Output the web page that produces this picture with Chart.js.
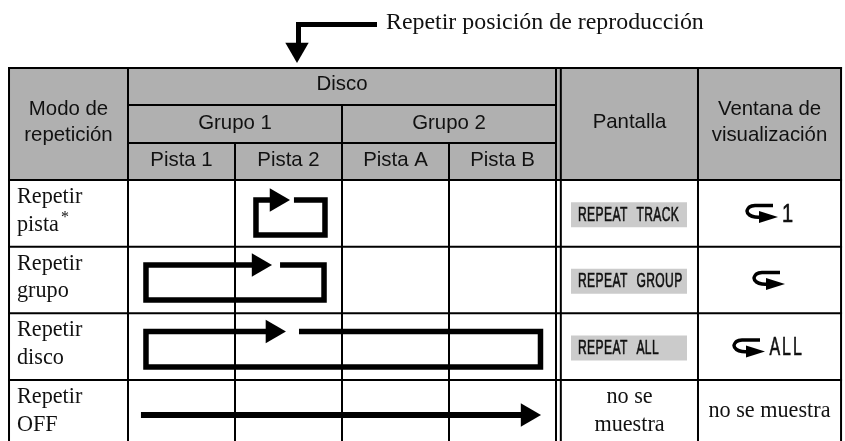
<!DOCTYPE html>
<html>
<head>
<meta charset="utf-8">
<style>
  html, body { margin: 0; padding: 0; background: #fff; }
  canvas { display: block; }
</style>
<script src="https://cdn.jsdelivr.net/npm/chart.js@4/dist/chart.umd.js"></script>
</head>
<body>
<canvas id="chart" width="845" height="441"></canvas>
<script>
// table content
const pointerLabel = "Repetir posición de reproducción";
const discLabel = "Disco";
const modeHeader = ["Modo de", "repetición"];
const screenHeader = "Pantalla";
const windowHeader = ["Ventana de", "visualización"];
const groups = ["Grupo 1", "Grupo 2"];
const tracks = ["Pista 1", "Pista 2", "Pista A", "Pista B"];
const modes = [["Repetir", "pista"], ["Repetir", "grupo"], ["Repetir", "disco"], ["Repetir", "OFF"]];
const screenTexts = ["REPEAT TRACK", "REPEAT GROUP", "REPEAT ALL"];
const windowTexts = ["1", "", "ALL"];
const hiddenShort = ["no se", "muestra"];
const hiddenLong = "no se muestra";

// repeat spans, x in tracks, y in rows
const loopStart = [1.196, 0.168, 0.168];
const loopEnd = [1.841, 1.832, 3.855];
const loopTop = [0.30, 1.275, 2.272];
const loopBottom = [0.825, 1.80, 2.805];
const arrowAt = [1.388, 1.220, 1.350];
const resumeAt = [1.551, 1.421, 1.598];
const offStart = 0.121;
const offEnd = 3.734;
const offRow = 3.525;

// grid edges, same units
const colLeft = -1.112, colDoubleA = 4, colDoubleB = 4.045, colScreenEnd = 5.327, colRight = 6.664;
const rowTop = -1.68, rowDisc = -1.125, rowGroup = -0.555;

const ink = "#000";
const headerGray = "#b0b0b0";
const screenGray = "#cbcbcb";
const sans = "'Liberation Sans'";
const serif = "'Liberation Serif'";

const pxX = 107, pxY = 66.67;
const X = p => (p - 128) / pxX;
const Y = p => (p - 180) / pxY;

const line = (pts, width) => ({
    data: pts, borderColor: ink, borderWidth: width, pointRadius: 0, tension: 0, fill: false,
    borderJoinStyle: "miter", borderCapStyle: "butt"
});
const seg = (x0, y0, x1, y1) => Object.assign(line([{x: x0, y: y0}, {x: x1, y: y1}], 2), {borderCapStyle: "square"});
const band = (x0, x1, y0, y1, color) => ({
    data: [{x: x0, y: y1}, {x: x1, y: y1}], borderWidth: 0, pointRadius: 0,
    backgroundColor: color, fill: {target: {value: y0}}
});

const datasets = [];

// loops
loopStart.forEach((s, i) => {
    datasets.push(line([
        {x: arrowAt[i], y: loopTop[i]}, {x: s, y: loopTop[i]}, {x: s, y: loopBottom[i]},
        {x: loopEnd[i], y: loopBottom[i]}, {x: loopEnd[i], y: loopTop[i]}, {x: resumeAt[i], y: loopTop[i]}
    ], 5.5));
});
datasets.push(line([{x: offStart, y: offRow}, {x: offEnd, y: offRow}], 6));

// arrow heads
datasets.push({
    data: arrowAt.map((a, i) => ({x: a, y: loopTop[i]})).concat([{x: offEnd, y: offRow}]),
    showLine: false, pointStyle: "triangle", pointRotation: 90, pointRadius: 13.5,
    pointBackgroundColor: ink, pointBorderWidth: 0
});

// pointer above the table
datasets.push(line([{x: X(377), y: Y(24.5)}, {x: X(298.5), y: Y(24.5)}, {x: X(298.5), y: Y(50)}], 5));
datasets.push({
    data: [{x: X(297), y: Y(49.5)}],
    showLine: false, pointStyle: "triangle", pointRotation: 180, pointRadius: 13.5,
    pointBackgroundColor: ink, pointBorderWidth: 0
});

// repeat icons of the window column
const iconLeft = [X(747), X(754), X(734)];
const iconRow = [Y(205.5), Y(272.5), Y(340)];
const hook = [[26, 0], [8, 0], [2.5, 1.5], [0, 5.5], [2.5, 9.5], [8, 11.5], [18, 11.5]];
const head = [[12, 5.5], [31, 11.5], [12, 17.5]];
iconLeft.forEach((ix, i) => {
    const pts = list => list.map(p => ({x: ix + p[0] / pxX, y: iconRow[i] + p[1] / pxY}));
    datasets.push(Object.assign(line(pts(hook), 3.5), {tension: 0.25}));
    datasets.push({data: pts(head), borderWidth: 0, pointRadius: 0, backgroundColor: ink, fill: "shape"});
});

// grid
[rowTop, 0, 1, 2, 3].forEach(r => datasets.push(seg(colLeft, r, colRight, r)));
[rowDisc, rowGroup].forEach(r => datasets.push(seg(0, r, colDoubleA, r)));
[colLeft, 0, colDoubleA, colDoubleB, colScreenEnd, colRight].forEach(c => datasets.push(seg(c, rowTop, c, 3.915)));
[1, 3].forEach(c => datasets.push(seg(c, rowGroup, c, 3.915)));
datasets.push(seg(2, rowDisc, 2, 3.915));

// shaded cells
datasets.push(band(colLeft, colRight, rowTop, 0, headerGray));
loopTop.forEach((t, i) => {
    const mid = i + 0.52;
    datasets.push(band(X(571), X(687), mid - 12.5 / pxY, mid + 12.5 / pxY, screenGray));
});

const tableText = {
    id: "tableText",
    afterDatasetsDraw(chart) {
        const {ctx, scales} = chart;
        const put = (str, x, y, font, align) => {
            ctx.font = font;
            ctx.textAlign = align || "center";
            ctx.fillText(str, scales.x.getPixelForValue(x), scales.y.getPixelForValue(y));
        };
        const narrow = (str, x, y, font, squeeze, spacing) => {
            ctx.save();
            ctx.translate(scales.x.getPixelForValue(x), scales.y.getPixelForValue(y));
            ctx.scale(squeeze, 1);
            ctx.font = font;
            ctx.textAlign = "left";
            ctx.letterSpacing = spacing;
            ctx.wordSpacing = "8px";
            ctx.strokeStyle = "#111";
            ctx.lineWidth = 0.6;
            ctx.strokeText(str, 0, 0);
            ctx.fillText(str, 0, 0);
            ctx.restore();
        };
        const head = "20.4px " + sans;
        const body = "22.2px " + serif;
        ctx.save();
        ctx.fillStyle = "#111";
        ctx.textBaseline = "alphabetic";

        put(pointerLabel, X(386), Y(29.3), "23.9px " + serif, "left");

        put(discLabel, 2, Y(90), head);
        groups.forEach((g, i) => put(g, 1 + i * 2, Y(128.5), head));
        tracks.forEach((t, i) => put(t, i + 0.5, Y(165.5), head));
        put(modeHeader[0], X(68.5), Y(115), head);
        put(modeHeader[1], X(68.5), Y(140.5), head);
        put(screenHeader, X(629.5), Y(128), head);
        put(windowHeader[0], X(769.5), Y(115), head);
        put(windowHeader[1], X(769.5), Y(140.5), head);

        modes.forEach((m, i) => {
            put(m[0], X(17), i + 23 / pxY, body, "left");
            put(m[1], X(17), i + 50.7 / pxY, body, "left");
        });
        put("*", X(61), Y(222), "16px " + serif, "left");

        screenTexts.forEach((s, i) => narrow(s, X(578), i + 0.52 + 6 / pxY, "19.5px " + sans, 0.62, "0.6px"));
        narrow(windowTexts[0], X(782), iconRow[0] + 16.5 / pxY, "25px " + sans, 0.8, "0");
        narrow(windowTexts[2], iconLeft[2] + 35.5 / pxX, iconRow[2] + 15 / pxY, "25px " + sans, 0.64, "3px");

        put(hiddenShort[0], X(629.5), Y(402.7), body);
        put(hiddenShort[1], X(629.5), Y(430.7), body);
        put(hiddenLong, X(769.5), Y(417), body);
        ctx.restore();
    }
};

new Chart(document.getElementById("chart"), {
    type: "line",
    data: {datasets: datasets},
    plugins: [tableText],
    options: {
        responsive: false,
        animation: false,
        events: [],
        layout: {padding: 0, autoPadding: false},
        plugins: {legend: {display: false}, tooltip: {enabled: false}, title: {display: false}},
        scales: {
            x: {type: "linear", display: false, min: -128 / pxX, max: 717 / pxX},
            y: {type: "linear", display: false, reverse: true, min: -180 / pxY, max: 261 / pxY}
        }
    }
});
</script>
</body>
</html>
